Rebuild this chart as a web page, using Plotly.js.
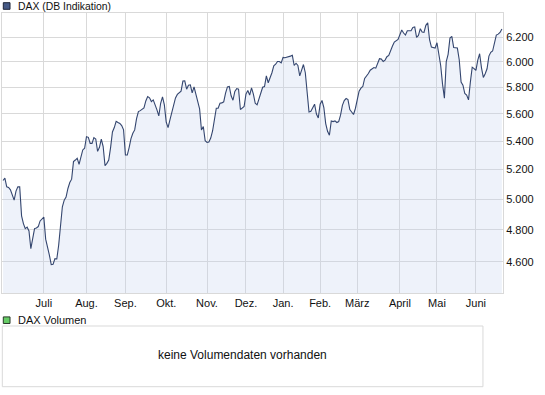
<!DOCTYPE html>
<html>
<head>
<meta charset="utf-8">
<script src="https://cdn.plot.ly/plotly-3.0.1.min.js"></script>
<style>html,body{margin:0;padding:0;background:#fff;}#chart{width:545px;height:395px;}</style>
</head>
<body>
<div id="chart"></div>
<script>
// Month labels and the trading-day index at which each month starts
const monthLabels = ['Juli','Aug.','Sep.','Okt.','Nov.','Dez.','Jan.','Feb.','März','April','Mai','Juni'];
const monthStartIdx = [22,45,66,88,110,131,151,171,191,214,234,255];
// Y tick values and labels (German thousands separator)
const yTickVals = [4600,4800,5000,5200,5400,5600,5800,6000,6200];
const yTickText = ['4.600','4.800','5.000','5.200','5.400','5.600','5.800','6.000','6.200'];
// DAX daily closes, trading days from June 2009 to June 2010
const daxValues = [
5125,5141,5082,5078,5062,5031,4993,5053,5082,5082,
4890,4840,4808,4817,4793,4682,4736,4808,4812,4821,
4857,4868,4882,4741,4699,4641,4584,4586,4620,4618,
4703,4810,4949,4993,5013,5071,5111,5134,5255,5266,
5278,5236,5278,5337,5349,5432,5427,5384,5384,5425,
5415,5327,5356,5415,5361,5227,5243,5266,5354,5466,
5498,5544,5535,5528,5513,5481,5301,5301,5354,5418,
5456,5481,5564,5616,5623,5631,5643,5696,5729,5719,
5691,5704,5671,5629,5584,5678,5727,5666,5537,5498,
5554,5616,5663,5719,5745,5760,5770,5848,5850,5785,
5816,5819,5757,5803,5742,5678,5636,5481,5506,5403,
5391,5394,5422,5473,5547,5641,5641,5678,5681,5689,
5755,5803,5806,5735,5701,5768,5790,5785,5631,5641,
5654,5748,5775,5740,5795,5748,5678,5666,5706,5763,
5800,5806,5889,5835,5871,5913,5967,5980,6002,6002,
5991,6035,6032,6035,6037,6045,6051,5970,5988,5970,
5889,5931,5978,5913,5752,5613,5618,5643,5671,5598,
5569,5671,5699,5646,5527,5471,5442,5547,5542,5547,
5535,5542,5589,5663,5699,5714,5706,5631,5616,5594,
5639,5714,5770,5793,5806,5869,5886,5907,5933,5946,
5954,5949,5991,6024,6021,6002,6013,6040,6051,6094,
6126,6159,6170,6180,6219,6258,6233,6216,6252,6249,
6252,6280,6283,6197,6213,6269,6241,6238,6297,6319,
6178,6118,6115,6110,6153,6067,5970,5824,5717,6002,
6059,6191,6205,6115,6113,6110,6016,5840,5816,5752,
5740,5704,5840,5957,5946,5931,6013,6064,5952,5876,
5905,5944,6045,6075,6086,6153,6216,6224,6238,6266
];
const dayIdx = daxValues.map((v, i) => i);

const FONT = 'Liberation Sans, Arial, sans-serif';
const gridCol = '#d9d9d9';

const trace = {
  x: dayIdx, y: daxValues, type: 'scatter', mode: 'lines',
  line: {color: '#34466f', width: 1.1},
  fill: 'tozeroy', fillcolor: 'rgba(200,212,240,0.3)',
  hoverinfo: 'skip', showlegend: false
};

const layout = {
  width: 545, height: 395,
  margin: {l: 2, r: 42, t: 13, b: 102, pad: 0},
  paper_bgcolor: '#fff', plot_bgcolor: '#fff',
  showlegend: false,
  font: {family: FONT, size: 11, color: '#111'},
  xaxis: {
    range: [-0.55, 269.6], tickmode: 'array', tickvals: monthStartIdx, ticktext: monthLabels,
    showgrid: true, gridcolor: gridCol, gridwidth: 1, zeroline: false,
    showline: true, linecolor: gridCol, linewidth: 1, mirror: true,
    ticks: '', tickfont: {family: FONT, size: 11, color: '#111'}, fixedrange: true
  },
  yaxis: {
    type: 'log', range: [Math.log10(4414), Math.log10(6401)], side: 'right',
    tickmode: 'array', tickvals: yTickVals, ticktext: yTickText,
    showgrid: true, gridcolor: gridCol, gridwidth: 1, zeroline: false,
    showline: true, linecolor: gridCol, linewidth: 1, mirror: true,
    ticks: '', tickfont: {family: FONT, size: 11, color: '#111'}, fixedrange: true
  },
  shapes: [
    {type: 'rect', xref: 'paper', yref: 'paper', x0: 0.0026, x1: 0.016, y0: 1.0132, y1: 1.0368,
     fillcolor: '#465a86', line: {color: '#1e2538', width: 1}},
    {type: 'rect', xref: 'paper', yref: 'paper', x0: 0.0026, x1: 0.016, y0: -0.1089, y1: -0.0854,
     fillcolor: '#66cc66', line: {color: '#2a3a2a', width: 1}},
    {type: 'rect', xref: 'paper', yref: 'paper', x0: 0.0006, x1: 0.960, y0: -0.3346, y1: -0.1179,
     fillcolor: 'rgba(0,0,0,0)', line: {color: '#d9d9d9', width: 1}}
  ],
  annotations: [
    {xref: 'paper', yref: 'paper', x: 0.0274, y: 1.0250, xanchor: 'left', yanchor: 'middle',
     text: 'DAX (DB Indikation)', showarrow: false, font: {family: FONT, size: 10.4, color: '#111'}},
    {xref: 'paper', yref: 'paper', x: 0.0274, y: -0.0971, xanchor: 'left', yanchor: 'middle',
     text: 'DAX Volumen', showarrow: false, font: {family: FONT, size: 11, color: '#111'}},
    {xref: 'paper', yref: 'paper', x: 0.480, y: -0.2231, xanchor: 'center', yanchor: 'middle',
     text: 'keine Volumendaten vorhanden', showarrow: false, font: {family: FONT, size: 12, color: '#111'}}
  ]
};

Plotly.newPlot('chart', [trace], layout, {displayModeBar: false, staticPlot: true});
</script>
</body>
</html>
